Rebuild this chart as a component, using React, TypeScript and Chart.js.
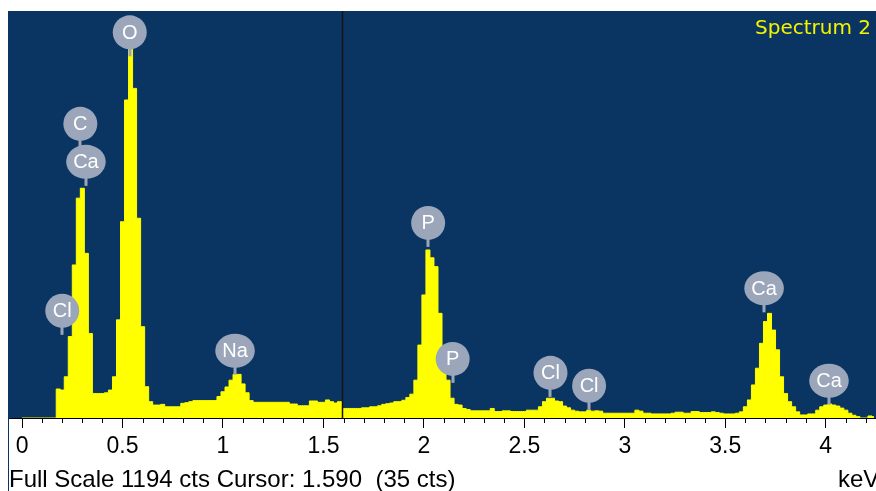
import React, { useEffect, useRef } from 'react';
import { Chart, registerables } from 'chart.js';

Chart.register(...registerables);

// Acquisition readout
const SPECTRUM_TITLE = 'Spectrum 2';
const FULL_SCALE_CTS = 1194;
const CURSOR_KEV = 1.59;
const CURSOR_CTS = 35;
const ENERGY_UNIT = 'keV';

// Energy axis (keV)
const AXIS_MIN_KEV = -0.07;
const AXIS_MAX_KEV = 4.25;
const MINOR_STEP_KEV = 0.1;
const MAJOR_TICKS_KEV = [0, 0.5, 1, 1.5, 2, 2.5, 3, 3.5, 4];

// Detector channel width (keV); channel i is centred on i * CHANNEL_KEV
const CHANNEL_KEV = 0.02;

// Counts per channel, starting at 0.00 keV
const COUNTS = [
  0, 0, 0, 0, 0, 0, 0, 0, 0, 85,            // 0.00 - 0.18
  82, 121, 239, 449, 645, 674, 483, 248, 72, 72, // 0.20 - 0.38
  72, 74, 82, 121, 288, 576, 933, 1082, 967, 586, // 0.40 - 0.58
  268, 92, 48, 38, 38, 40, 33, 33, 33, 33,    // 0.60 - 0.78
  43, 45, 48, 51, 51, 51, 51, 51, 51, 63,     // 0.80 - 0.98
  77, 91, 111, 128, 128, 100, 74, 51, 46, 46, // 1.00 - 1.18
  46, 46, 46, 46, 46, 46, 46, 41, 41, 36,     // 1.20 - 1.38
  36, 36, 50, 50, 46, 46, 53, 48, 44, 48,     // 1.40 - 1.58
  28, 28, 28, 28, 28, 30, 30, 33, 33, 36,     // 1.60 - 1.78
  40, 42, 44, 48, 48, 52, 60, 70, 111, 214,   // 1.80 - 1.98
  361, 493, 470, 444, 307, 190, 111, 58, 40, 38, // 2.00 - 2.18
  28, 25, 21, 21, 21, 21, 21, 28, 19, 19,     // 2.20 - 2.38
  21, 21, 19, 19, 19, 19, 23, 23, 23, 33,     // 2.40 - 2.58
  48, 58, 58, 50, 48, 35, 30, 23, 20, 18,     // 2.60 - 2.78
  18, 23, 20, 21, 20, 14, 14, 14, 14, 14,     // 2.80 - 2.98
  14, 14, 14, 23, 20, 14, 14, 12, 12, 12,     // 3.00 - 3.18
  12, 12, 14, 17, 17, 14, 14, 19, 19, 16,     // 3.20 - 3.38
  16, 16, 18, 16, 14, 12, 12, 12, 14, 18,     // 3.40 - 3.58
  33, 53, 97, 146, 219, 283, 307, 258, 200, 121, // 3.60 - 3.78
  72, 48, 33, 18, 9, 9, 12, 12, 23, 33,       // 3.80 - 3.98
  38, 41, 38, 35, 29, 23, 14, 8, 4, 0,        // 4.00 - 4.18
  0, 6, 4,                                    // 4.20 - 4.24
];

// Element line markers: energy of the line, spectrum height the stem points to,
// and how many markers it is stacked above the one below it
const LINE_MARKERS = [
  { el: 'Cl', keV: 0.2, tip: 244, stack: 0 },
  { el: 'C', keV: 0.29, tip: 681, stack: 1 },
  { el: 'Ca', keV: 0.318, tip: 681, stack: 0 },
  { el: 'O', keV: 0.536, tip: 1061, stack: 0 },
  { el: 'Na', keV: 1.06, tip: 127, stack: 0 },
  { el: 'P', keV: 2.021, tip: 502, stack: 0 },
  { el: 'P', keV: 2.143, tip: 103, stack: 0 },
  { el: 'Cl', keV: 2.63, tip: 62, stack: 0 },
  { el: 'Cl', keV: 2.822, tip: 24, stack: 0 },
  { el: 'Ca', keV: 3.693, tip: 310, stack: 0 },
  { el: 'Ca', keV: 4.016, tip: 39, stack: 0 },
];

const PLOT_BG = '#0A3462';
const TRACE = '#FFFF00';
const MARKER_FILL = '#9BA6BA';
const SANS = '"Liberation Sans", Arial, sans-serif';

const isMajor = (v: number) => MAJOR_TICKS_KEV.some((m) => Math.abs(m - v) < 1e-6);

const edsPlugin = {
  id: 'edsDecor',
  beforeDraw(chart: any) {
    const { ctx, chartArea: a, width, height } = chart;
    ctx.save();
    ctx.fillStyle = '#ffffff';
    ctx.fillRect(0, 0, width, height);
    ctx.fillStyle = PLOT_BG;
    ctx.fillRect(a.left, a.top, a.right - a.left, a.bottom - a.top);
    ctx.restore();
  },
  afterDatasetsDraw(chart: any) {
    const { ctx, chartArea: a, scales } = chart;
    const xs = scales.x;
    const ys = scales.y;
    ctx.save();

    // cursor line
    const cx = Math.round(xs.getPixelForValue(CURSOR_KEV)) + 0.5;
    ctx.strokeStyle = '#141414';
    ctx.lineWidth = 1.5;
    ctx.beginPath();
    ctx.moveTo(cx, a.top);
    ctx.lineTo(cx, a.bottom);
    ctx.stroke();

    // element markers
    ctx.font = `20px ${SANS}`;
    const placed = LINE_MARKERS.map((m) => {
      const px = xs.getPixelForValue(m.keV);
      const py = ys.getPixelForValue(m.tip) - 24 - 38 * m.stack;
      const tw = ctx.measureText(m.el).width;
      return { ...m, px, py, rx: Math.max(17, tw / 2 + 7) };
    });
    ctx.fillStyle = MARKER_FILL;
    placed.forEach((p) => {
      ctx.fillRect(Math.round(p.px) - 1.5, p.py + 12, 3, 12);
    });
    placed.forEach((p) => {
      ctx.beginPath();
      ctx.ellipse(p.px, p.py, p.rx, 17, 0, 0, Math.PI * 2);
      ctx.fillStyle = MARKER_FILL;
      ctx.fill();
      ctx.fillStyle = '#FFFFFF';
      ctx.textAlign = 'center';
      ctx.textBaseline = 'middle';
      ctx.fillText(p.el, p.px, p.py + 1);
    });

    // spectrum name
    ctx.font = '20px "DejaVu Sans", Verdana, sans-serif';
    ctx.fillStyle = '#F4F400';
    ctx.textAlign = 'right';
    ctx.textBaseline = 'alphabetic';
    ctx.fillText(SPECTRUM_TITLE, a.right - 5, a.top + 23);
    ctx.restore();
  },
  afterDraw(chart: any) {
    const { ctx, chartArea: a, scales, height } = chart;
    const xs = scales.x;
    ctx.save();

    // minor ticks
    ctx.strokeStyle = '#000';
    ctx.lineWidth = 1;
    xs.ticks.forEach((t: any) => {
      if (isMajor(t.value)) return;
      const px = Math.round(xs.getPixelForValue(t.value)) + 0.5;
      ctx.beginPath();
      ctx.moveTo(px, a.bottom);
      ctx.lineTo(px, a.bottom + 5);
      ctx.stroke();
    });

    // left frame edge below the plot
    ctx.fillStyle = PLOT_BG;
    ctx.fillRect(a.left, a.bottom, 1, height - a.bottom);

    // readout line
    ctx.fillStyle = '#000';
    ctx.font = `24px ${SANS}`;
    ctx.textBaseline = 'alphabetic';
    ctx.textAlign = 'left';
    ctx.fillText(
      `Full Scale ${FULL_SCALE_CTS} cts Cursor: ${CURSOR_KEV.toFixed(3)}  (${CURSOR_CTS} cts)`,
      a.left + 1,
      height - 4
    );
    ctx.fillText(ENERGY_UNIT, a.right - 38, height - 4);
    ctx.restore();
  },
};

export default function App() {
  const canvasRef = useRef<HTMLCanvasElement | null>(null);

  useEffect(() => {
    const canvas = canvasRef.current;
    if (!canvas) return;
    const points = COUNTS.map((c, i) => ({ x: i * CHANNEL_KEV, y: c }));
    const chart = new Chart(canvas, {
      type: 'line',
      data: {
        datasets: [
          {
            data: points,
            stepped: 'middle',
            fill: 'origin',
            backgroundColor: TRACE,
            borderColor: TRACE,
            borderWidth: 1,
            pointRadius: 0,
          },
        ],
      },
      options: {
        animation: false,
        responsive: false,
        devicePixelRatio: 1,
        events: [],
        layout: { padding: { left: 8, top: 11, right: 0, bottom: 0 } },
        plugins: { legend: { display: false }, tooltip: { enabled: false } },
        scales: {
          x: {
            type: 'linear',
            min: AXIS_MIN_KEV,
            max: AXIS_MAX_KEV,
            afterFit: (s: any) => {
              s.height = 73;
            },
            border: { display: true, color: '#000', width: 1 },
            grid: {
              drawOnChartArea: false,
              drawTicks: true,
              tickLength: 10,
              tickWidth: 1,
              tickColor: (c: any) => (c.tick && isMajor(c.tick.value) ? '#000' : 'rgba(0,0,0,0)'),
            },
            ticks: {
              stepSize: MINOR_STEP_KEV,
              autoSkip: false,
              includeBounds: false,
              maxRotation: 0,
              minRotation: 0,
              padding: 5,
              color: '#000',
              font: { family: SANS, size: 23 },
              callback: (v: any) => (isMajor(Number(v)) ? String(Math.round(Number(v) * 10) / 10) : ''),
            },
          },
          y: { display: false, min: 0, max: FULL_SCALE_CTS },
        },
      },
      plugins: [edsPlugin],
    } as any);
    return () => chart.destroy();
  }, []);

  return (
    <div style={{ position: 'fixed', left: 0, top: 0, width: 876, height: 491, background: '#fff' }}>
      <canvas ref={canvasRef} width={876} height={491} style={{ display: 'block' }} />
    </div>
  );
}
